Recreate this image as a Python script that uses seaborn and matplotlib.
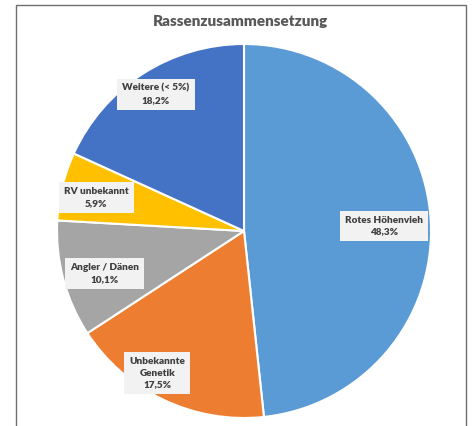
import numpy as np
import matplotlib
matplotlib.use("Agg")
import matplotlib.pyplot as plt
from matplotlib.patches import Rectangle
import seaborn as sns

categories = ["Rotes Höhenvieh", "Unbekannte\nGenetik", "Angler / Dänen", "RV unbekannt", "Weitere (< 5%)"]
values = [48.3, 17.5, 10.1, 5.9, 18.2]
pct_labels = ["48,3%", "17,5%", "10,1%", "5,9%", "18,2%"]
colors_hex = ["#5B9BD5", "#ED7D31", "#A5A5A5", "#FFC000", "#4472C4"]
label_dist = [0.75, 0.89, 0.78, 0.81, 0.87]
label_rot = [-1, -6, 2, 1, 0]  # small angular nudge (degrees) of label anchors
title = "Rassenzusammensetzung"

sns.set_style("white")
plt.rcParams['font.family'] = ['Lato', 'DejaVu Sans']
palette = sns.color_palette(colors_hex)

fig = plt.figure(figsize=(4.72, 4.26), dpi=100)
fig.patch.set_facecolor("white")

# frame
fig.patches.append(Rectangle((16/472, -0.05), (466-16)/472, 1 - 5/426 + 0.05,
                             transform=fig.transFigure, fill=False,
                             edgecolor="#6e6e6e", linewidth=1.0))

ax = fig.add_axes([(244-187)/472, (426-231-187)/426, 374/472, 374/426])
wedges, _ = ax.pie(values, colors=palette, startangle=90, counterclock=False,
                   wedgeprops=dict(edgecolor="white", linewidth=1.5))
ax.set_xlim(-1, 1)
ax.set_ylim(-1, 1)
ax.set_aspect("equal")
ax.axis("off")

for w, cat, pct, d, r in zip(wedges, categories, pct_labels, label_dist, label_rot):
    ang = np.deg2rad((w.theta1 + w.theta2) / 2 + r)
    x, y = d * np.cos(ang), d * np.sin(ang)
    ax.text(x, y, f"{cat}\n{pct}", ha="center", va="center", fontsize=7.2,
            fontweight="heavy", color="#404040", linespacing=1.4,
            bbox=dict(boxstyle="square,pad=0.5", facecolor="#F2F2F2", edgecolor="none"))

fig.text(241/472, 1 - 22/426, title, ha="center", va="center", fontsize=11,
         fontweight="heavy", color="#595959")

fig.savefig("out.png", dpi=100, facecolor="white")
